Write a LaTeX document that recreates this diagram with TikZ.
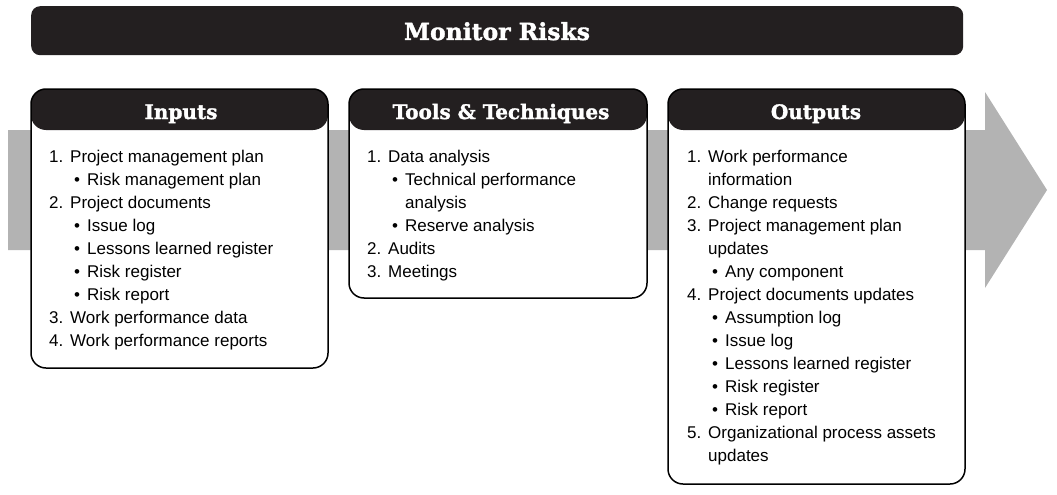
\documentclass[tikz,border=0pt]{standalone}
\usepackage{fontspec}
\setmainfont{Liberation Sans}
\newfontfamily\slabfont{DejaVu Serif}[BoldFeatures={FakeBold=1.5}]
\definecolor{dark}{RGB}{35,31,32}
\definecolor{arrowgray}{RGB}{179,179,179}
\newcommand\nitem[2]{\makebox[21pt][l]{#1}#2}
\newcommand\bitem[1]{\hspace{25pt}\makebox[13pt][l]{•}#1}
\newcommand\citem[1]{\hspace{21pt}#1}
\newcommand\cbitem[1]{\hspace{38pt}#1}
\tikzset{
  panel/.style={draw=black, line width=1.5pt, fill=white, rounded corners=15pt,
    anchor=north west, inner sep=0pt, outer sep=0pt,
    path picture={\fill[dark] (path picture bounding box.north west) rectangle
      ([yshift=-41pt]path picture bounding box.north east);}},
  head/.style={text=white, font=\slabfont\bfseries\fontsize{20}{24}\selectfont, inner sep=0pt, anchor=base},
  item/.style={anchor=base west, inner sep=0pt, font=\fontsize{17}{20}\selectfont},
}
\begin{document}
\begin{tikzpicture}[x=1pt,y=-1pt]
\useasboundingbox (0,0) rectangle (1057,495);
% flow arrow
\fill[arrowgray] (8,130) -- (985,130) -- (985,92) -- (1047,190) -- (985,288) -- (985,250) -- (8,250) -- cycle;
% title bar
\node[fill=dark, rounded corners=9pt, minimum width=932pt, minimum height=49pt, anchor=north west, inner sep=0pt] (titlebar) at (31,6) {};
\node[text=white, font=\slabfont\bfseries\fontsize{23.5}{27}\selectfont, inner sep=0pt, anchor=base] (title) at (497,40) {Monitor Risks};
% panels
\node[panel, minimum width=297pt, minimum height=279pt] (inbox) at (31,89) {};
\node[panel, minimum width=298pt, minimum height=209pt] (toolbox) at (349,89) {};
\node[panel, minimum width=297pt, minimum height=395pt] (outbox) at (668,89) {};
\node[head] (inhead) at (181,119) {Inputs};
\node[head] (toolhead) at (501,119) {Tools \& Techniques};
\node[head] (outhead) at (816,119) {Outputs};
% inputs
\foreach [count=\i] \t in {
  {\nitem{1.}{Project management plan}},
  {\bitem{Risk management plan}},
  {\nitem{2.}{Project documents}},
  {\bitem{Issue log}},
  {\bitem{Lessons learned register}},
  {\bitem{Risk register}},
  {\bitem{Risk report}},
  {\nitem{3.}{Work performance data}},
  {\nitem{4.}{Work performance reports}}}
  \node[item, name=in-\i] at (49,{162+23*(\i-1)}) {\t};
% tools
\foreach [count=\i] \t in {
  {\nitem{1.}{Data analysis}},
  {\bitem{Technical performance}},
  {\cbitem{analysis}},
  {\bitem{Reserve analysis}},
  {\nitem{2.}{Audits}},
  {\nitem{3.}{Meetings}}}
  \node[item, name=tt-\i] at (367,{162+23*(\i-1)}) {\t};
% outputs
\foreach [count=\i] \t in {
  {\nitem{1.}{Work performance}},
  {\citem{information}},
  {\nitem{2.}{Change requests}},
  {\nitem{3.}{Project management plan}},
  {\citem{updates}},
  {\bitem{Any component}},
  {\nitem{4.}{Project documents updates}},
  {\bitem{Assumption log}},
  {\bitem{Issue log}},
  {\bitem{Lessons learned register}},
  {\bitem{Risk register}},
  {\bitem{Risk report}},
  {\nitem{5.}{Organizational process assets}},
  {\citem{updates}}}
  \node[item, name=out-\i] at (687,{162+23*(\i-1)}) {\t};
\end{tikzpicture}
\end{document}
